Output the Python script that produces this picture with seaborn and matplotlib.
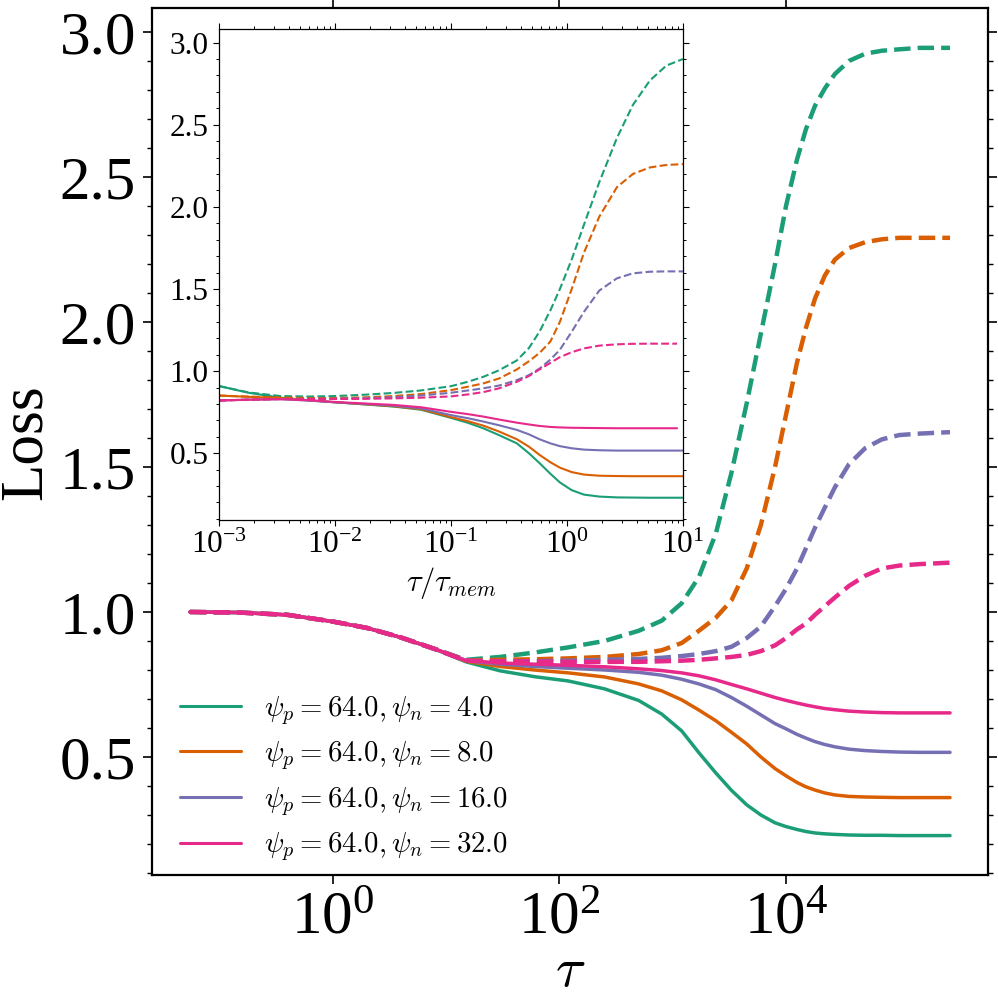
import matplotlib
matplotlib.use('Agg')
import matplotlib.pyplot as plt
from matplotlib.lines import Line2D
from matplotlib.ticker import MultipleLocator, NullLocator
import seaborn as sns

# main panel: loss vs tau, one grid shared by all curves
tau = [0.055, 0.15, 0.4, 1, 2, 4, 8, 15, 30, 60, 120, 250, 500, 800, 1200,
       1700, 2400, 3300, 4500, 6000, 8000, 10000, 12500, 15000, 18000, 22000,
       27000, 36000, 50000, 70000, 100000, 150000, 280000]
early = [1.000, 0.998, 0.99, 0.967, 0.945, 0.912, 0.872]

green_solid = early + [0.828, 0.797, 0.777, 0.762, 0.735, 0.695, 0.648, 0.59, 0.515, 0.445,
                       0.385, 0.335, 0.30, 0.273, 0.26, 0.25, 0.243, 0.238, 0.235,
                       0.233, 0.231, 0.230, 0.230, 0.229, 0.229, 0.229]
orange_solid = early + [0.830, 0.812, 0.80, 0.79, 0.776, 0.752, 0.728, 0.697, 0.662, 0.625,
                        0.585, 0.545, 0.50, 0.46, 0.435, 0.412, 0.397, 0.386, 0.376,
                        0.369, 0.364, 0.362, 0.361, 0.36, 0.36, 0.36]
purple_solid = early + [0.832, 0.82, 0.812, 0.806, 0.80, 0.792, 0.782, 0.768, 0.752, 0.732,
                        0.705, 0.675, 0.645, 0.615, 0.597, 0.578, 0.565, 0.553, 0.543,
                        0.535, 0.527, 0.522, 0.519, 0.517, 0.516, 0.516]
pink_solid = early + [0.833, 0.824, 0.82, 0.816, 0.811, 0.804, 0.798, 0.79, 0.78, 0.766,
                      0.75, 0.735, 0.72, 0.705, 0.695, 0.686, 0.679, 0.673, 0.667,
                      0.663, 0.658, 0.655, 0.653, 0.652, 0.652, 0.652]

green_dash = early + [0.835, 0.845, 0.86, 0.878, 0.90, 0.935, 0.97, 1.03, 1.12, 1.27,
                      1.48, 1.72, 1.96, 2.20, 2.40, 2.56, 2.665, 2.745, 2.805,
                      2.855, 2.90, 2.925, 2.935, 2.94, 2.945, 2.945]
orange_dash = early + [0.833, 0.835, 0.837, 0.84, 0.845, 0.855, 0.868, 0.893, 0.935, 0.98,
                       1.04, 1.15, 1.30, 1.50, 1.68, 1.86, 1.98, 2.08, 2.16,
                       2.215, 2.255, 2.275, 2.285, 2.29, 2.29, 2.29]
purple_dash = early + [0.832, 0.83, 0.83, 0.832, 0.835, 0.838, 0.842, 0.848, 0.855, 0.865,
                       0.88, 0.91, 0.95, 1.02, 1.08, 1.15, 1.22, 1.29, 1.36,
                       1.43, 1.51, 1.565, 1.595, 1.61, 1.615, 1.62]
pink_dash = early + [0.832, 0.83, 0.829, 0.828, 0.828, 0.828, 0.83, 0.832, 0.835, 0.84,
                     0.845, 0.852, 0.865, 0.885, 0.91, 0.94, 0.96, 0.99, 1.02,
                     1.05, 1.09, 1.125, 1.15, 1.16, 1.165, 1.17]

# inset: loss vs tau / tau_mem
ratio = [0.001, 0.0018, 0.0034, 0.006, 0.01, 0.018, 0.032, 0.055, 0.1, 0.14, 0.19,
         0.26, 0.37, 0.47, 0.58, 0.72, 0.87, 1.1, 1.4, 1.9, 2.7, 3.7, 5.2, 7.2, 10]
ratio_pink = ratio[:-1] + [8.9]

in_green_solid = [0.909, 0.868, 0.838, 0.822, 0.810, 0.797, 0.784, 0.765, 0.715, 0.685,
                  0.652, 0.610, 0.56, 0.50, 0.44, 0.375, 0.322, 0.275, 0.248, 0.236,
                  0.231, 0.23, 0.229, 0.229, 0.229]
in_orange_solid = [0.851, 0.843, 0.836, 0.822, 0.810, 0.798, 0.786, 0.768, 0.72, 0.695,
                   0.668, 0.632, 0.585, 0.54, 0.49, 0.445, 0.412, 0.385, 0.37, 0.363,
                   0.361, 0.36, 0.36, 0.36, 0.36]
in_purple_solid = [0.821, 0.826, 0.829, 0.82, 0.81, 0.80, 0.789, 0.773, 0.732, 0.713,
                   0.693, 0.67, 0.642, 0.615, 0.585, 0.56, 0.543, 0.53, 0.522, 0.518,
                   0.516, 0.516, 0.516, 0.516, 0.516]
in_pink_solid = [0.821, 0.826, 0.829, 0.822, 0.812, 0.803, 0.794, 0.78, 0.752, 0.738,
                 0.723, 0.705, 0.686, 0.675, 0.666, 0.66, 0.657, 0.655, 0.654, 0.653,
                 0.652, 0.652, 0.652, 0.652, 0.652]

in_green_dash = [0.909, 0.87, 0.848, 0.845, 0.848, 0.856, 0.867, 0.882, 0.908, 0.935,
                 0.965, 1.005, 1.065, 1.14, 1.24, 1.37, 1.50, 1.68, 1.89, 2.15,
                 2.42, 2.62, 2.77, 2.86, 2.90]
in_orange_dash = [0.851, 0.845, 0.839, 0.836, 0.836, 0.84, 0.848, 0.86, 0.884, 0.905,
                  0.925, 0.955, 1.01, 1.06, 1.11, 1.18, 1.30, 1.50, 1.72, 1.94,
                  2.12, 2.20, 2.24, 2.255, 2.26]
in_purple_dash = [0.821, 0.826, 0.83, 0.831, 0.832, 0.835, 0.841, 0.851, 0.868, 0.882,
                  0.895, 0.912, 0.945, 0.975, 1.015, 1.07, 1.13, 1.24, 1.36, 1.49,
                  1.565, 1.595, 1.605, 1.607, 1.607]
in_pink_dash = [0.821, 0.826, 0.83, 0.83, 0.83, 0.831, 0.834, 0.838, 0.846, 0.858,
                0.872, 0.895, 0.935, 0.97, 1.01, 1.05, 1.085, 1.115, 1.138, 1.155,
                1.163, 1.166, 1.167, 1.167, 1.167]

psi_p = 64.0
psi_n = [4.0, 8.0, 16.0, 32.0]

sns.set_theme(style='ticks')
plt.rcParams['font.family'] = ['Liberation Serif', 'DejaVu Serif']
plt.rcParams['mathtext.fontset'] = 'cm'
for key in ['text.color', 'axes.labelcolor', 'xtick.color', 'ytick.color', 'axes.edgecolor']:
    plt.rcParams[key] = 'black'

colors = sns.color_palette('Dark2', 4)
labels = [rf'$\psi_p = {psi_p}, \psi_n = {n}$' for n in psi_n]

main_solid = [green_solid, orange_solid, purple_solid, pink_solid]
main_dash = [green_dash, orange_dash, purple_dash, pink_dash]
inset_solid = [in_green_solid, in_orange_solid, in_purple_solid, in_pink_solid]
inset_dash = [in_green_dash, in_orange_dash, in_purple_dash, in_pink_dash]
inset_x = [ratio, ratio, ratio, ratio_pink]

fig = plt.figure(figsize=(9.98, 9.97), dpi=100)
ax = fig.add_axes([0.1523, 0.1224, 0.8377, 0.8691])
ins = fig.add_axes([0.2194, 0.4784, 0.4649, 0.4922])

for i in range(4):
    sns.lineplot(x=tau, y=main_solid[i], ax=ax, color=colors[i], lw=2.5)
    sns.lineplot(x=tau, y=main_dash[i], ax=ax, color=colors[i], lw=3.2, linestyle='--')

for i in range(4):
    sns.lineplot(x=inset_x[i], y=inset_solid[i], ax=ins, color=colors[i], lw=1.5)
    sns.lineplot(x=inset_x[i], y=inset_dash[i], ax=ins, color=colors[i], lw=1.5,
                 linestyle='--')

# main axes
ax.set_xscale('log')
ax.set_xticks([1, 1e2, 1e4])
ax.xaxis.set_minor_locator(NullLocator())
ax.yaxis.set_major_locator(MultipleLocator(0.5))
ax.yaxis.set_minor_locator(MultipleLocator(0.1))
ax.tick_params(which='both', direction='out', top=True, right=True,
               labeltop=False, labelright=False)
ax.tick_params(which='major', length=6.5, width=1.2, labelsize=44, pad=5)
ax.tick_params(which='minor', length=3.8, width=1.0)
for s in ax.spines.values():
    s.set_linewidth(1.6)
ax.set_xlabel(r'$\tau$', fontsize=40, labelpad=0)
ax.set_ylabel('Loss', fontsize=44)

handles = [Line2D([0], [0], color=c, lw=2.2) for c in colors]
ax.legend(handles, labels, loc='lower left', bbox_to_anchor=(0.02, 0.0),
          frameon=False, fontsize=20.7, handlelength=2.1, handletextpad=0.8,
          labelspacing=0.45, borderaxespad=0.0)

# inset axes
ins.set_xscale('log')
ins.set_xlim(1e-3, 10)
ins.set_ylim(ax.get_ylim())
ins.yaxis.set_major_locator(MultipleLocator(0.5))
ins.yaxis.set_minor_locator(MultipleLocator(0.1))
ins.tick_params(which='both', direction='out', top=True, right=True,
                labeltop=False, labelright=False)
ins.tick_params(which='major', length=4.5, width=0.8, labelsize=22.5, pad=3)
ins.tick_params(which='minor', length=2.4, width=0.7)
for s in ins.spines.values():
    s.set_linewidth(0.9)
ins.set_xlabel(r'$\tau/\tau_{mem}$', fontsize=22)
ins.set_ylabel('')

fig.savefig('out.png', dpi=100)
